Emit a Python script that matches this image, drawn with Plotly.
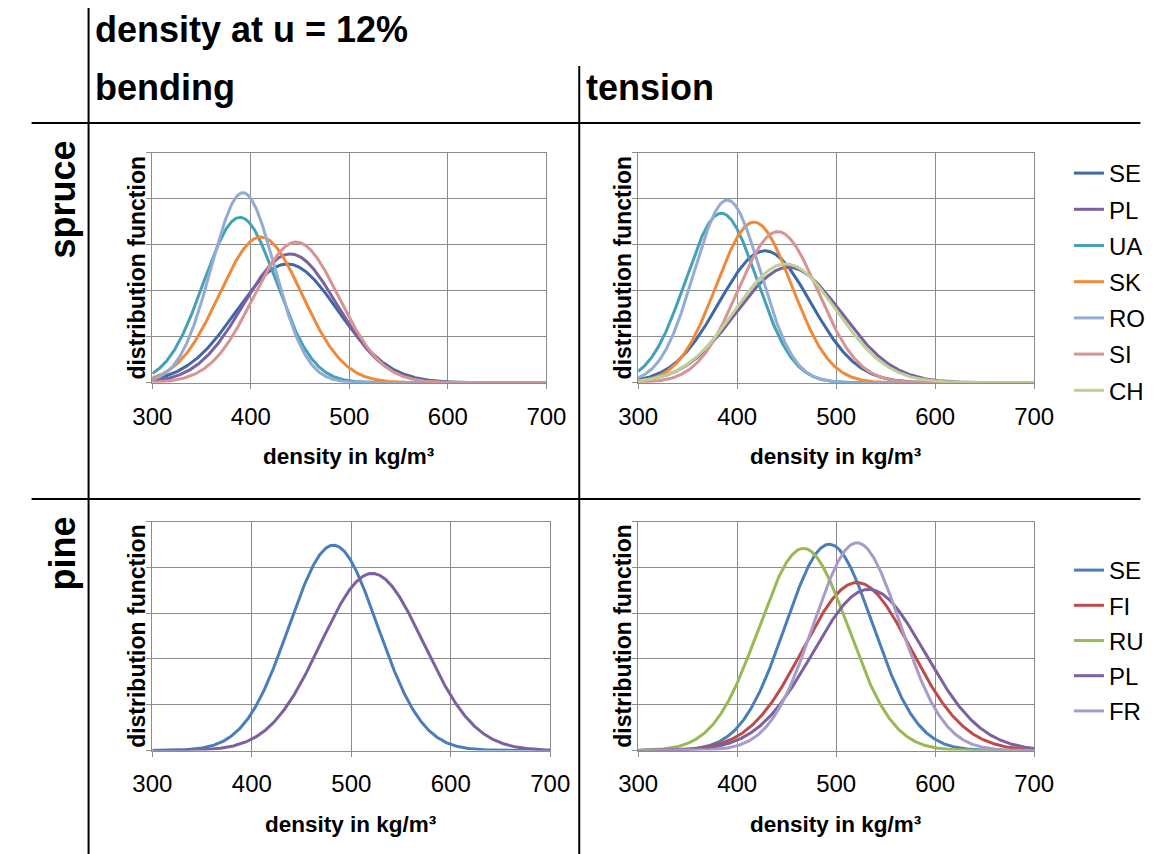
import numpy as np
import plotly.graph_objects as go

# ---------------- data ----------------
x_min, x_max = 300, 700
x_ticks = [300, 400, 500, 600, 700]

# spruce, bending: mean and standard deviation of density (kg/m³)
spruce_bending_codes = ["SE", "PL", "UA", "SK", "RO", "SI"]
spruce_bending_mean = [437, 440, 389, 410, 392, 446]
spruce_bending_sd = [51.5, 47.5, 37.0, 42.0, 32.2, 43.5]

# spruce, tension
spruce_tension_codes = ["SE", "PL", "UA", "SK", "RO", "SI", "CH"]
spruce_tension_mean = [428, 452, 384, 417, 390, 441, 449]
spruce_tension_sd = [46.4, 53.0, 36.1, 38.1, 33.5, 40.5, 51.5]

# pine, bending
pine_bending_codes = ["SE", "PL"]
pine_bending_mean = [482, 521]
pine_bending_sd = [44.5, 51.6]

# pine, tension
pine_tension_codes = ["SE", "FI", "RU", "PL", "FR"]
pine_tension_mean = [493, 521, 467, 533, 521]
pine_tension_sd = [44.3, 54.4, 45.2, 56.7, 44.0]

spruce_colors = {"SE": "#3F68A6", "PL": "#7D60A0", "UA": "#45A1B8", "SK": "#EF8A3A",
                 "RO": "#93ACD3", "SI": "#D79492", "CH": "#BCD197"}
pine_colors = {"SE": "#4A7EBB", "FI": "#BE4B48", "RU": "#98B954", "PL": "#7D60A0",
               "FR": "#A99BC9"}

W, H = 1172, 854
FONT = "Liberation Sans, Arial, sans-serif"


def px(x):
    return x / W


def py(y):
    return 1 - y / H


def normal_pdf(x, m, s):
    return np.exp(-0.5 * ((x - m) / s) ** 2) / (s * np.sqrt(2 * np.pi))


xs = np.linspace(x_min, x_max, 801)

fig = go.Figure()

panels = [
    # (codes, means, sds, colors, xaxis, yaxis, legend, showlegend)
    (spruce_bending_codes, spruce_bending_mean, spruce_bending_sd, spruce_colors, "x", "y", "legend", False),
    (spruce_tension_codes, spruce_tension_mean, spruce_tension_sd, spruce_colors, "x2", "y2", "legend", True),
    (pine_bending_codes, pine_bending_mean, pine_bending_sd, pine_colors, "x3", "y3", "legend2", False),
    (pine_tension_codes, pine_tension_mean, pine_tension_sd, pine_colors, "x4", "y4", "legend2", True),
]

for pi, (codes, means, sds, cols, xa, ya, leg, show) in enumerate(panels):
    for code, m, s in zip(codes, means, sds):
        fig.add_trace(go.Scatter(
            x=xs, y=normal_pdf(xs, m, s), mode="lines", name=code,
            line=dict(color=cols[code], width=3), xaxis=xa, yaxis=ya,
            legend=leg, showlegend=show, legendgroup=f"p{pi}_{code}",
            hoverinfo="skip"))

# plot-area rectangles (pixels)
top_y = (152.7, 382.7)
bot_y = (521.5, 750.5)
rects = {
    "1": ((137, 545), top_y, 0.015, 0.003),
    "2": ((640, 1050), top_y, 0.015, 0.003),
    "3": ((137, 549), bot_y, 0.010, 0.002),
    "4": ((640, 1050), bot_y, 0.010, 0.002),
}

grid_col = "#8C8C8C"
layout_axes = {}
for k, ((x0, x1), (y0, y1), ymax, dy) in rects.items():
    xn = "xaxis" if k == "1" else f"xaxis{k}"
    yn = "yaxis" if k == "1" else f"yaxis{k}"
    layout_axes[xn] = dict(
        domain=[px(x0), px(x1)], range=[x_min, x_max], tickvals=x_ticks,
        anchor="y" if k == "1" else f"y{k}",
        showgrid=True, gridcolor=grid_col, gridwidth=1,
        showline=True, linecolor=grid_col, linewidth=1, mirror=True,
        ticks="outside", ticklen=5, tickcolor=grid_col,
        tickfont=dict(family=FONT, size=24, color="#000"),
        ticklabelstandoff=7, zeroline=False, fixedrange=True)
    layout_axes[yn] = dict(
        domain=[py(y1), py(y0)], range=[0, ymax], dtick=dy, tick0=0,
        anchor="x" if k == "1" else f"x{k}",
        showgrid=True, gridcolor=grid_col, gridwidth=1,
        showline=True, linecolor=grid_col, linewidth=1, mirror=True,
        ticks="outside", ticklen=5, tickcolor=grid_col,
        showticklabels=False, zeroline=False, fixedrange=True)

annotations = []


def txt(text, x, y, size, bold=True, angle=0, xanchor="center", yanchor="middle"):
    annotations.append(dict(
        text=f"<b>{text}</b>" if bold else text, x=px(x), y=py(y),
        xref="paper", yref="paper", showarrow=False, textangle=angle,
        xanchor=xanchor, yanchor=yanchor,
        font=dict(family=FONT, size=size, color="#000")))


# headings
txt("density at u = 12%", 76, 29, 36, xanchor="left")
txt("bending", 76, 87, 36, xanchor="left")
txt("tension", 584, 87, 36, xanchor="left")
txt("spruce", 44, 199, 36, angle=-90)
txt("pine", 44, 553, 36, angle=-90)

# axis titles
for k, ((x0, x1), (y0, y1), _, _) in rects.items():
    txt("distribution function", x0 - 16, (y0 + y1) / 2, 23, angle=-90)
    txt("density in kg/m³", (x0 + x1) / 2, y1 + 74, 22.5)

# table lines
shapes = []
for (x0, y0, x1, y1) in [(71, 8, 71, 854), (579, 66, 579, 854),
                         (12, 123, 1160, 123), (12, 499, 1160, 499)]:
    shapes.append(dict(type="line", xref="paper", yref="paper",
                       x0=px(x0), y0=py(y0), x1=px(x1), y1=py(y1),
                       line=dict(color="#000", width=2)))

legend_common = dict(
    font=dict(family=FONT, size=24, color="#000"), bgcolor="rgba(0,0,0,0)",
    borderwidth=0, xanchor="left", yanchor="top",
    itemclick=False, itemdoubleclick=False)

fig.update_layout(
    width=W, height=H, margin=dict(l=0, r=0, t=0, b=0),
    paper_bgcolor="white", plot_bgcolor="white",
    annotations=annotations, shapes=shapes,
    legend=dict(x=px(1086), y=py(151), tracegroupgap=2, **legend_common),
    legend2=dict(x=px(1086), y=py(548), tracegroupgap=1, **legend_common),
    **layout_axes)

fig.write_html("out.html")
